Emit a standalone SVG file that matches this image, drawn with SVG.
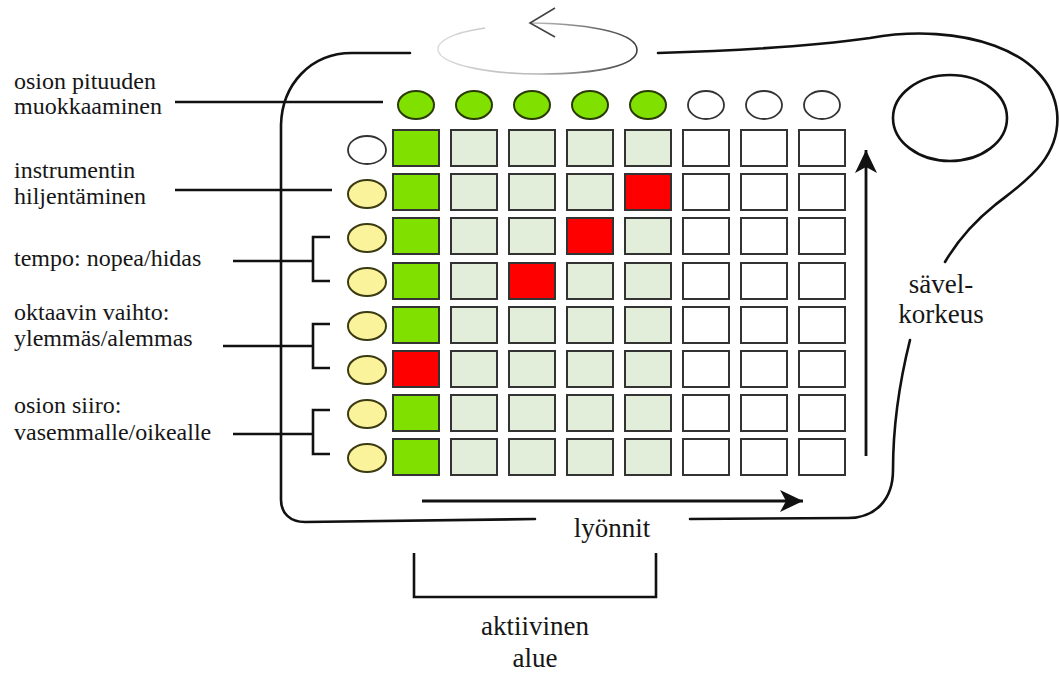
<svg xmlns="http://www.w3.org/2000/svg" width="1059" height="673" viewBox="0 0 1059 673">
  <style>
    text { font-family: "Liberation Serif", "Times New Roman", serif; fill: #161616; }
    .lbl { font-size: 24px; }
    .lbl-lg { font-size: 27px; }
    .body { fill: none; stroke: #111; stroke-width: 2.6; stroke-linecap: round; stroke-linejoin: round; }
    .lead { fill: none; stroke: #111; stroke-width: 2.6; }
    .pad { stroke: #333; stroke-width: 2; }
    .on { fill: #80e000; }
    .dim { fill: #e2eed9; }
    .off { fill: #ffffff; }
    .hit { fill: #ff0000; }
    .knob-g { fill: #80e000; stroke: #2a3a05; stroke-width: 2; }
    .knob-w { fill: #ffffff; stroke: #333; stroke-width: 1.8; }
    .knob-y { fill: #faf39c; stroke: #3c3a10; stroke-width: 2; }
    .arrow { fill: none; stroke: #111; stroke-width: 2.8; }
  </style>
  <defs>
    <marker id="head" markerUnits="userSpaceOnUse" markerWidth="26" markerHeight="26" viewBox="-1 -13 26 26" refX="23" refY="0" orient="auto">
      <path d="M0,-11 L23,0 L0,11 L6,0 Z" fill="#111"/>
    </marker>
    <linearGradient id="spin" x1="438" y1="0" x2="640" y2="0" gradientUnits="userSpaceOnUse">
      <stop offset="0" stop-color="#dcdcdc"/>
      <stop offset="0.5" stop-color="#b5b5b5"/>
      <stop offset="1" stop-color="#3a3a3a"/>
    </linearGradient>
  </defs>

  <!-- device body outline -->
  <g id="body">
    <path class="body" d="M410,53 L352,53 C310,53 282,85 281,125 L281,500 C281,513 290,522 305,522 L535,519"/>
    <path class="body" d="M658,53 C760,50 820,45 870,38 C960,22 1050,50 1057,112 C1062,160 1020,185 995,205 C970,225 955,245 945,262"/>
    <path class="body" d="M910,340 C900,380 893,420 893,470 C893,500 875,518 848,518 L690,519"/>
    <ellipse class="body" cx="950" cy="118" rx="57" ry="43"/>
  </g>

  <!-- rotation indicator -->
  <g id="rotate">
    <path d="M485,28 C450,33 437,42 438,50 C440,65 490,74 540,74 C600,74 637,65 637,50 C637,35 600,24 530,23" fill="none" stroke="url(#spin)" stroke-width="1.6"/>
    <path d="M555,8 L530,23 L555,37" fill="none" stroke="#444" stroke-width="1.6"/>
  </g>

  <!-- top row of length knobs -->
  <g id="length-knobs">
    <ellipse class="knob-g" cx="416" cy="105" rx="18" ry="14"/>
    <ellipse class="knob-g" cx="474" cy="105" rx="18" ry="14"/>
    <ellipse class="knob-g" cx="532" cy="105" rx="18" ry="14"/>
    <ellipse class="knob-g" cx="590" cy="105" rx="18" ry="14"/>
    <ellipse class="knob-g" cx="648" cy="105" rx="18" ry="14"/>
    <ellipse class="knob-w" cx="706" cy="105" rx="18" ry="14"/>
    <ellipse class="knob-w" cx="764" cy="105" rx="18" ry="14"/>
    <ellipse class="knob-w" cx="822" cy="105" rx="18" ry="14"/>
  </g>

  <!-- side column of function knobs -->
  <g id="side-knobs">
    <ellipse class="knob-w" cx="367" cy="150" rx="19" ry="14"/>
    <ellipse class="knob-y" cx="367" cy="194" rx="19" ry="14"/>
    <ellipse class="knob-y" cx="367" cy="238" rx="19" ry="14"/>
    <ellipse class="knob-y" cx="367" cy="282" rx="19" ry="14"/>
    <ellipse class="knob-y" cx="367" cy="326" rx="19" ry="14"/>
    <ellipse class="knob-y" cx="367" cy="370" rx="19" ry="14"/>
    <ellipse class="knob-y" cx="367" cy="414" rx="19" ry="14"/>
    <ellipse class="knob-y" cx="367" cy="458" rx="19" ry="14"/>
  </g>

  <!-- 8x8 pad grid -->
  <g id="grid">
    <g id="row1">
      <rect class="pad on" x="393" y="130" width="46" height="36"/>
      <rect class="pad dim" x="451" y="130" width="46" height="36"/>
      <rect class="pad dim" x="509" y="130" width="46" height="36"/>
      <rect class="pad dim" x="567" y="130" width="46" height="36"/>
      <rect class="pad dim" x="625" y="130" width="46" height="36"/>
      <rect class="pad off" x="683" y="130" width="46" height="36"/>
      <rect class="pad off" x="741" y="130" width="46" height="36"/>
      <rect class="pad off" x="799" y="130" width="46" height="36"/>
    </g>
    <g id="row2">
      <rect class="pad on" x="393" y="174" width="46" height="36"/>
      <rect class="pad dim" x="451" y="174" width="46" height="36"/>
      <rect class="pad dim" x="509" y="174" width="46" height="36"/>
      <rect class="pad dim" x="567" y="174" width="46" height="36"/>
      <rect class="pad hit" x="625" y="174" width="46" height="36"/>
      <rect class="pad off" x="683" y="174" width="46" height="36"/>
      <rect class="pad off" x="741" y="174" width="46" height="36"/>
      <rect class="pad off" x="799" y="174" width="46" height="36"/>
    </g>
    <g id="row3">
      <rect class="pad on" x="393" y="218" width="46" height="36"/>
      <rect class="pad dim" x="451" y="218" width="46" height="36"/>
      <rect class="pad dim" x="509" y="218" width="46" height="36"/>
      <rect class="pad hit" x="567" y="218" width="46" height="36"/>
      <rect class="pad dim" x="625" y="218" width="46" height="36"/>
      <rect class="pad off" x="683" y="218" width="46" height="36"/>
      <rect class="pad off" x="741" y="218" width="46" height="36"/>
      <rect class="pad off" x="799" y="218" width="46" height="36"/>
    </g>
    <g id="row4">
      <rect class="pad on" x="393" y="263" width="46" height="36"/>
      <rect class="pad dim" x="451" y="263" width="46" height="36"/>
      <rect class="pad hit" x="509" y="263" width="46" height="36"/>
      <rect class="pad dim" x="567" y="263" width="46" height="36"/>
      <rect class="pad dim" x="625" y="263" width="46" height="36"/>
      <rect class="pad off" x="683" y="263" width="46" height="36"/>
      <rect class="pad off" x="741" y="263" width="46" height="36"/>
      <rect class="pad off" x="799" y="263" width="46" height="36"/>
    </g>
    <g id="row5">
      <rect class="pad on" x="393" y="307" width="46" height="36"/>
      <rect class="pad dim" x="451" y="307" width="46" height="36"/>
      <rect class="pad dim" x="509" y="307" width="46" height="36"/>
      <rect class="pad dim" x="567" y="307" width="46" height="36"/>
      <rect class="pad dim" x="625" y="307" width="46" height="36"/>
      <rect class="pad off" x="683" y="307" width="46" height="36"/>
      <rect class="pad off" x="741" y="307" width="46" height="36"/>
      <rect class="pad off" x="799" y="307" width="46" height="36"/>
    </g>
    <g id="row6">
      <rect class="pad hit" x="393" y="351" width="46" height="36"/>
      <rect class="pad dim" x="451" y="351" width="46" height="36"/>
      <rect class="pad dim" x="509" y="351" width="46" height="36"/>
      <rect class="pad dim" x="567" y="351" width="46" height="36"/>
      <rect class="pad dim" x="625" y="351" width="46" height="36"/>
      <rect class="pad off" x="683" y="351" width="46" height="36"/>
      <rect class="pad off" x="741" y="351" width="46" height="36"/>
      <rect class="pad off" x="799" y="351" width="46" height="36"/>
    </g>
    <g id="row7">
      <rect class="pad on" x="393" y="395" width="46" height="36"/>
      <rect class="pad dim" x="451" y="395" width="46" height="36"/>
      <rect class="pad dim" x="509" y="395" width="46" height="36"/>
      <rect class="pad dim" x="567" y="395" width="46" height="36"/>
      <rect class="pad dim" x="625" y="395" width="46" height="36"/>
      <rect class="pad off" x="683" y="395" width="46" height="36"/>
      <rect class="pad off" x="741" y="395" width="46" height="36"/>
      <rect class="pad off" x="799" y="395" width="46" height="36"/>
    </g>
    <g id="row8">
      <rect class="pad on" x="393" y="439" width="46" height="36"/>
      <rect class="pad dim" x="451" y="439" width="46" height="36"/>
      <rect class="pad dim" x="509" y="439" width="46" height="36"/>
      <rect class="pad dim" x="567" y="439" width="46" height="36"/>
      <rect class="pad dim" x="625" y="439" width="46" height="36"/>
      <rect class="pad off" x="683" y="439" width="46" height="36"/>
      <rect class="pad off" x="741" y="439" width="46" height="36"/>
      <rect class="pad off" x="799" y="439" width="46" height="36"/>
    </g>
  </g>

  <!-- leader lines, brackets and axis arrows -->
  <g id="connectors">
    <path class="lead" d="M175,102 H383"/>
    <path class="lead" d="M175,190 H332"/>
    <path class="lead" d="M233,261 H313"/>
    <path class="lead" d="M330,237 H313 V281 H330"/>
    <path class="lead" d="M223,346 H313"/>
    <path class="lead" d="M330,324 H313 V368 H330"/>
    <path class="lead" d="M233,434 H313"/>
    <path class="lead" d="M330,410 H313 V454 H330"/>
    <path class="lead" d="M414,553 V597 H656 V553"/>
    <path class="arrow" d="M422,501 H803" marker-end="url(#head)"/>
    <path class="arrow" d="M866,456 V150" marker-end="url(#head)"/>
  </g>

  <!-- labels -->
  <g id="labels">
    <text class="lbl" x="14" y="89">osion pituuden</text>
    <text class="lbl" x="14" y="114">muokkaaminen</text>
    <text class="lbl" x="14" y="178">instrumentin</text>
    <text class="lbl" x="14" y="204">hiljentäminen</text>
    <text class="lbl" x="14" y="266">tempo: nopea/hidas</text>
    <text class="lbl" x="14" y="320">oktaavin vaihto:</text>
    <text class="lbl" x="14" y="346">ylemmäs/alemmas</text>
    <text class="lbl" x="14" y="413">osion siiro:</text>
    <text class="lbl" x="14" y="440">vasemmalle/oikealle</text>
    <text class="lbl-lg" x="941" y="293" text-anchor="middle">sävel-</text>
    <text class="lbl-lg" x="941" y="323" text-anchor="middle">korkeus</text>
    <text class="lbl-lg" x="612" y="537" text-anchor="middle">lyönnit</text>
    <text class="lbl-lg" x="535" y="635" text-anchor="middle">aktiivinen</text>
    <text class="lbl-lg" x="535" y="667" text-anchor="middle">alue</text>
  </g>
</svg>
